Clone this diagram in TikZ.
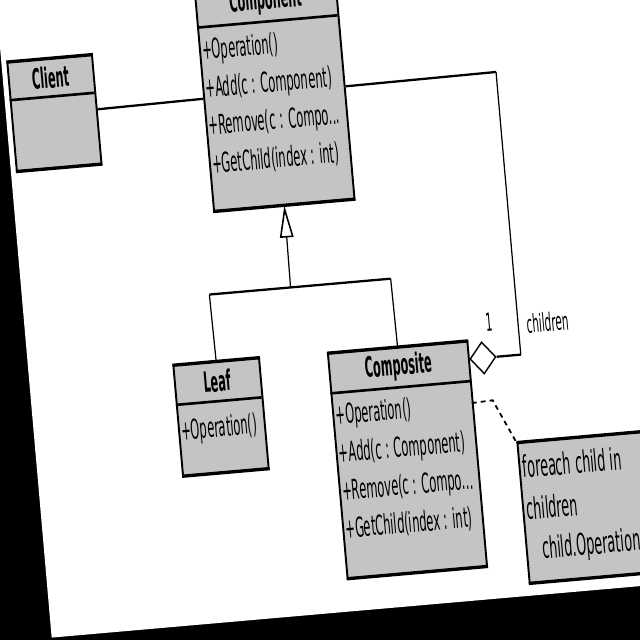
\documentclass[tikz,border=0pt]{standalone}
\usepackage{fontspec}
\setmainfont{DejaVu Sans}
\usepackage{graphicx}
\usetikzlibrary{shapes.geometric,arrows.meta}
\definecolor{boxgray}{RGB}{196,196,196}
\newcommand{\cnd}[1]{\scalebox{0.42}[1]{#1}}
\newcommand{\cndb}[1]{\scalebox{0.40}[1]{#1}}
\newcommand{\cndn}[1]{\scalebox{0.43}[1]{#1}}
\begin{document}
\begin{tikzpicture}[x=0.02cm,y=-0.02cm,
  classbox/.style={draw=black, line width=1.1pt, fill=boxgray, rectangle, inner sep=0pt, anchor=north west},
  hedge/.style={line width=1.6pt},
  sepline/.style={line width=1.5pt},
  mtext/.style={anchor=west, inner sep=0pt, font=\fontsize{15.6}{18}\selectfont},
  ntext/.style={anchor=west, inner sep=0pt, font=\fontsize{17}{20}\selectfont},
  ttl/.style={inner sep=0pt, font=\fontsize{16}{19}\selectfont\bfseries},
  lbl/.style={inner sep=0pt, font=\fontsize{14.2}{17}\selectfont},
  vconn/.style={line width=0.7pt},
  hconn/.style={line width=1.3pt}]
\useasboundingbox (0,0) rectangle (640,640);
\fill[black] (0,0) rectangle (640,640);
\clip (0,0) rectangle (640,640);
\begin{scope}[rotate around={5:(320,320)}, transform shape]
\fill[white] (25,-300) rectangle (1000,613);

% class boxes
\node[classbox, minimum width=1.7cm, minimum height=2.17cm] (client) at (30,35.5) {};
\node[classbox, minimum width=2.82cm, minimum height=4.5cm] (comp) at (223,-24) {};
\node[classbox, minimum width=1.72cm, minimum height=2.2cm] (leaf) at (169,352) {};
\node[classbox, minimum width=2.8cm, minimum height=4.5cm] (compos) at (324,353.5) {};
\node[classbox, minimum width=3cm, minimum height=2.8cm] (note) at (505,459) {};

\foreach \b in {client,comp,leaf,compos,note}{
  \draw[hedge] (\b.north west) -- (\b.north east);
  \draw[hedge] (\b.south west) -- (\b.south east);
}
% header separators
\draw[sepline] (30,74) -- (115,74);
\draw[sepline] (223,18) -- (364,18);
\draw[sepline] (169,392) -- (255,392);
\draw[sepline] (324,394) -- (464,394);

% titles
\node[ttl] (tclient) at (72.5,55) {\cndb{Client}};
\node[ttl] (tcomp) at (293.5,-2) {\cndb{Component}};
\node[ttl] (tleaf) at (212,372) {\cndb{Leaf}};
\node[ttl] (tcompos) at (394,374) {\cndb{Composite}};

% operations
\node[mtext] (o1) at (226,43) {\cnd{+Operation()}};
\node[mtext] (o2) at (226,81) {\cnd{+Add(c : Component)}};
\node[mtext] (o3) at (226,118.5) {\cnd{+Remove(c : Compo...}};
\node[mtext] (o4) at (226,156) {\cnd{+GetChild(index : int)}};

\node[mtext] (l1) at (172,420) {\cnd{+Operation()}};

\node[mtext] (p1) at (327,418) {\cnd{+Operation()}};
\node[mtext] (p2) at (327,456) {\cnd{+Add(c : Component)}};
\node[mtext] (p3) at (327,494) {\cnd{+Remove(c : Compo...}};
\node[mtext] (p4) at (327,531) {\cnd{+GetChild(index : int)}};

% note text
\node[ntext] (n1) at (509,484) {\cndn{foreach child in}};
\node[ntext] (n2) at (509,526) {\cndn{children}};
\node[ntext] (n3) at (521,569) {\cndn{child.Operation()}};

% association client - component
\draw[hconn] (client.east) -- (comp.west);

% aggregation
\node[diamond, draw=black, line width=0.8pt, fill=white, inner sep=0pt, minimum width=0.52cm, minimum height=0.64cm] (dia) at (479,372) {};
\coordinate (a1) at (517,372);
\coordinate (a2) at (517,88.25);
\draw[hconn] (dia.east) -- (a1);
\draw[vconn] (a1) -- (a2);
\draw[hconn] (a2) -- (comp.east);
\node[lbl] (one) at (488,337) {\cnd{1}};
\node[lbl, anchor=west] (chl) at (525,342) {\cnd{children}};

% generalization
\coordinate (g0) at (293.5,285);
\coordinate (gl) at (212,285);
\coordinate (gr) at (394,285);
\draw[vconn, -{Triangle[open,length=0.64cm,width=0.27cm,line width=0.9pt]}] (g0) -- (comp.south);
\draw[hconn] (gl) -- (gr);
\draw[vconn] (gl) -- (leaf.north);
\draw[vconn] (gr) -- (compos.north);

% note link
\coordinate (d0) at (464,416);
\coordinate (d1) at (485,415);
\draw[line width=1pt, dash pattern=on 2.8pt off 2.3pt] (d0) -- (d1) -- (note.north west);
\end{scope}
\end{tikzpicture}
\end{document}
